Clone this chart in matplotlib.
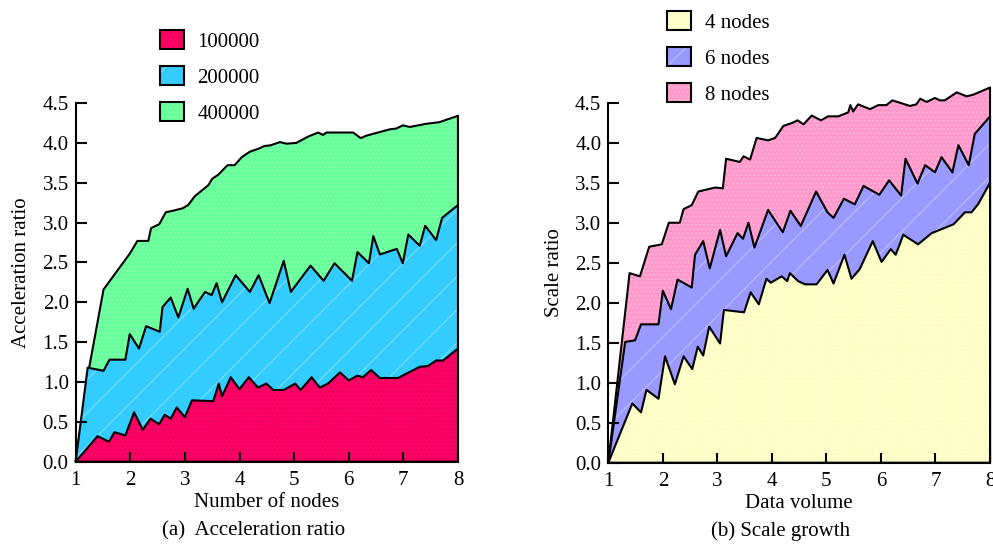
import matplotlib
matplotlib.use('Agg')
import matplotlib.pyplot as plt
from matplotlib.patches import Patch
from matplotlib.legend_handler import HandlerTuple

plt.rcParams['font.family'] = ['Liberation Serif', 'DejaVu Serif']
plt.rcParams['font.size'] = 15
plt.rcParams['hatch.linewidth'] = 1.0

# (a) acceleration ratio vs number of nodes, one curve per data size
acc_x_100k = [1, 1.40, 1.61, 1.71, 1.91, 2.07, 2.23, 2.37, 2.53, 2.63, 2.74, 2.85, 3.00,
              3.13, 3.52, 3.62, 3.68, 3.84, 4.00, 4.17, 4.34, 4.49, 4.62, 4.81, 5.02,
              5.12, 5.32, 5.47, 5.62, 5.84, 6.00, 6.16, 6.26, 6.41, 6.57, 6.90, 7.30,
              7.45, 7.60, 7.73, 8.00]
acc_y_100k = [0, 0.32, 0.25, 0.37, 0.33, 0.62, 0.40, 0.54, 0.47, 0.59, 0.54, 0.68, 0.56,
              0.77, 0.76, 0.98, 0.82, 1.06, 0.91, 1.06, 0.93, 0.98, 0.90, 0.90, 0.98,
              0.90, 1.06, 0.93, 0.98, 1.12, 1.02, 1.08, 1.06, 1.15, 1.05, 1.05, 1.19,
              1.20, 1.27, 1.27, 1.42]

acc_x_200k = [1, 1.22, 1.51, 1.62, 1.91, 1.99, 2.16, 2.29, 2.54, 2.59, 2.74, 2.88, 3.05,
              3.16, 3.37, 3.49, 3.58, 3.68, 3.93, 4.19, 4.35, 4.55, 4.81, 4.94, 5.30,
              5.54, 5.74, 6.06, 6.16, 6.37, 6.45, 6.57, 6.88, 6.99, 7.09, 7.30, 7.40,
              7.60, 7.71, 8.00]
acc_y_200k = [0, 1.18, 1.14, 1.28, 1.28, 1.60, 1.42, 1.70, 1.63, 1.94, 2.06, 1.81, 2.17,
              1.92, 2.13, 2.09, 2.24, 2.00, 2.34, 2.13, 2.34, 1.99, 2.52, 2.13, 2.46,
              2.27, 2.49, 2.27, 2.63, 2.49, 2.83, 2.60, 2.67, 2.49, 2.85, 2.71, 2.96,
              2.78, 3.06, 3.22]

acc_x_400k = [1, 1.25, 1.51, 1.99, 2.13, 2.33, 2.38, 2.53, 2.65, 2.79, 2.96, 3.06, 3.18,
              3.43, 3.50, 3.61, 3.78, 3.91, 4.04, 4.19, 4.36, 4.45, 4.57, 4.74, 4.86,
              5.04, 5.26, 5.44, 5.53, 5.59, 6.08, 6.22, 6.32, 6.75, 6.87, 6.99, 7.12,
              7.42, 7.66, 8.00]
acc_y_400k = [0, 1.19, 2.16, 2.61, 2.77, 2.77, 2.93, 2.98, 3.13, 3.15, 3.18, 3.22, 3.33,
              3.47, 3.55, 3.60, 3.72, 3.72, 3.82, 3.89, 3.93, 3.96, 3.97, 4.01, 3.99,
              4.00, 4.08, 4.13, 4.10, 4.13, 4.13, 4.06, 4.09, 4.17, 4.18, 4.22, 4.20,
              4.24, 4.26, 4.34]

# (b) scale ratio vs data volume, one curve per cluster size
sc_x_4 = [1, 1.44, 1.60, 1.70, 1.92, 2.04, 2.22, 2.38, 2.54, 2.64, 2.74, 2.85, 3.05,
          3.12, 3.49, 3.61, 3.76, 3.90, 3.98, 4.18, 4.28, 4.33, 4.48, 4.61, 4.82, 5.02,
          5.13, 5.33, 5.46, 5.61, 5.85, 6.01, 6.18, 6.27, 6.41, 6.68, 6.93, 7.33, 7.54,
          7.66, 7.78, 8.00]
sc_y_4 = [0, 0.74, 0.63, 0.91, 0.80, 1.33, 0.98, 1.33, 1.17, 1.45, 1.34, 1.70, 1.49,
          1.91, 1.88, 2.13, 1.98, 2.30, 2.25, 2.33, 2.27, 2.37, 2.27, 2.23, 2.23, 2.41,
          2.24, 2.60, 2.30, 2.42, 2.77, 2.51, 2.67, 2.60, 2.85, 2.73, 2.87, 2.98, 3.13,
          3.13, 3.23, 3.50]

sc_x_6 = [1, 1.31, 1.49, 1.60, 1.92, 2.00, 2.15, 2.27, 2.53, 2.59, 2.74, 2.86, 3.05,
          3.16, 3.37, 3.47, 3.57, 3.68, 3.93, 4.20, 4.34, 4.53, 4.81, 5.02, 5.13, 5.32,
          5.52, 5.68, 5.97, 6.15, 6.37, 6.45, 6.67, 6.81, 6.99, 7.11, 7.31, 7.42, 7.61,
          7.72, 8.00]
sc_y_6 = [0, 1.51, 1.53, 1.73, 1.73, 2.15, 1.92, 2.29, 2.19, 2.60, 2.77, 2.43, 2.91,
          2.58, 2.87, 2.80, 3.00, 2.69, 3.16, 2.88, 3.15, 2.96, 3.39, 3.13, 3.06, 3.30,
          3.23, 3.46, 3.35, 3.53, 3.34, 3.80, 3.49, 3.72, 3.63, 3.82, 3.63, 3.97, 3.72,
          4.11, 4.33]

sc_x_8 = [1, 1.39, 1.58, 1.75, 1.98, 2.11, 2.31, 2.38, 2.53, 2.65, 2.96, 3.10, 3.16,
          3.41, 3.48, 3.60, 3.72, 3.93, 4.06, 4.21, 4.38, 4.47, 4.58, 4.73, 4.90, 5.03,
          5.22, 5.40, 5.44, 5.49, 5.58, 5.80, 5.95, 6.10, 6.21, 6.53, 6.65, 6.72, 6.84,
          6.99, 7.08, 7.17, 7.39, 7.57, 7.69, 8.00]
sc_y_8 = [0, 2.37, 2.33, 2.70, 2.73, 3.00, 3.00, 3.17, 3.22, 3.39, 3.44, 3.43, 3.80,
          3.76, 3.83, 3.79, 4.06, 4.03, 4.06, 4.21, 4.25, 4.28, 4.23, 4.34, 4.28, 4.33,
          4.33, 4.38, 4.47, 4.39, 4.48, 4.42, 4.47, 4.47, 4.53, 4.46, 4.48, 4.55, 4.51,
          4.56, 4.53, 4.53, 4.63, 4.58, 4.60, 4.69]

acc_labels = ['100000', '200000', '400000']
sc_labels = ['4 nodes', '6 nodes', '8 nodes']
y_ticks = [0.0, 0.5, 1.0, 1.5, 2.0, 2.5, 3.0, 3.5, 4.0, 4.5]
x_ticks = [1, 2, 3, 4, 5, 6, 7, 8]


def draw_panel(ax, series, styles, ylabel, xlabel):
    # back curve first so the lower ones sit on top
    for (x, y), (face, hatch_col, hatch) in reversed(list(zip(series, styles))):
        ax.fill_between(x, 0, y, facecolor=face, edgecolor=hatch_col, hatch=hatch,
                        linewidth=0)
        ax.fill_between(x, 0, y, facecolor='none', edgecolor='black', linewidth=1.5,
                        clip_on=False)
    ax.set_xlim(1, 8)
    ax.set_ylim(0, 4.75)
    ax.set_xticks(x_ticks)
    ax.set_yticks(y_ticks)
    ax.set_yticklabels(['%.1f' % v for v in y_ticks])
    for s in ['top', 'right']:
        ax.spines[s].set_visible(False)
    ax.spines['left'].set_bounds(0, 4.5)
    ax.spines['left'].set_linewidth(1.5)
    ax.spines['bottom'].set_linewidth(1.5)
    ax.tick_params(axis='y', direction='in', length=8, width=1.5, pad=5)
    ax.tick_params(axis='x', direction='in', length=7, width=1.5, pad=7)
    ax.set_xlabel(xlabel, labelpad=2)
    ax.set_ylabel(ylabel, labelpad=8)


def make_handles(styles):
    return [(Patch(facecolor=f, edgecolor=h, hatch=ht, linewidth=0),
             Patch(facecolor='none', edgecolor='black', linewidth=1.5))
            for f, h, ht in styles]


fig = plt.figure(figsize=(9.93, 5.44), dpi=100)
ax1 = fig.add_axes([0.0762, 0.1513, 0.385, 0.6959])
ax2 = fig.add_axes([0.6126, 0.1494, 0.3844, 0.6985])

acc_styles = [('#ff0066', '#e0005a', '....'),
              ('#33ccff', '#70dcff', '/'),
              ('#66ff99', '#88ffb0', '....')]
sc_styles = [('#ffffcc', '#fafac0', '....'),
             ('#9999ff', '#b8b8ff', '/'),
             ('#ff99cc', '#ffb3d9', '....')]

draw_panel(ax1, [(acc_x_100k, acc_y_100k), (acc_x_200k, acc_y_200k),
                 (acc_x_400k, acc_y_400k)], acc_styles,
           'Acceleration ratio', 'Number of nodes')
draw_panel(ax2, [(sc_x_4, sc_y_4), (sc_x_6, sc_y_6), (sc_x_8, sc_y_8)], sc_styles,
           'Scale ratio', 'Data volume')

leg_kw = dict(loc='upper left', frameon=False, borderpad=0, borderaxespad=0,
              handlelength=1.15, handleheight=1.05, labelspacing=0.68,
              handletextpad=0.65, handler_map={tuple: HandlerTuple(ndivide=1)})
fig.legend(make_handles(acc_styles), acc_labels, bbox_to_anchor=(0.161, 0.945), **leg_kw)
fig.legend(make_handles(sc_styles), sc_labels, bbox_to_anchor=(0.672, 0.98), **leg_kw)

fig.text(0.255, 0.024, '(a)  Acceleration ratio', ha='center', va='center')
fig.text(0.786, 0.024, '(b) Scale growth', ha='center', va='center')

fig.savefig('out.png', dpi=100)
